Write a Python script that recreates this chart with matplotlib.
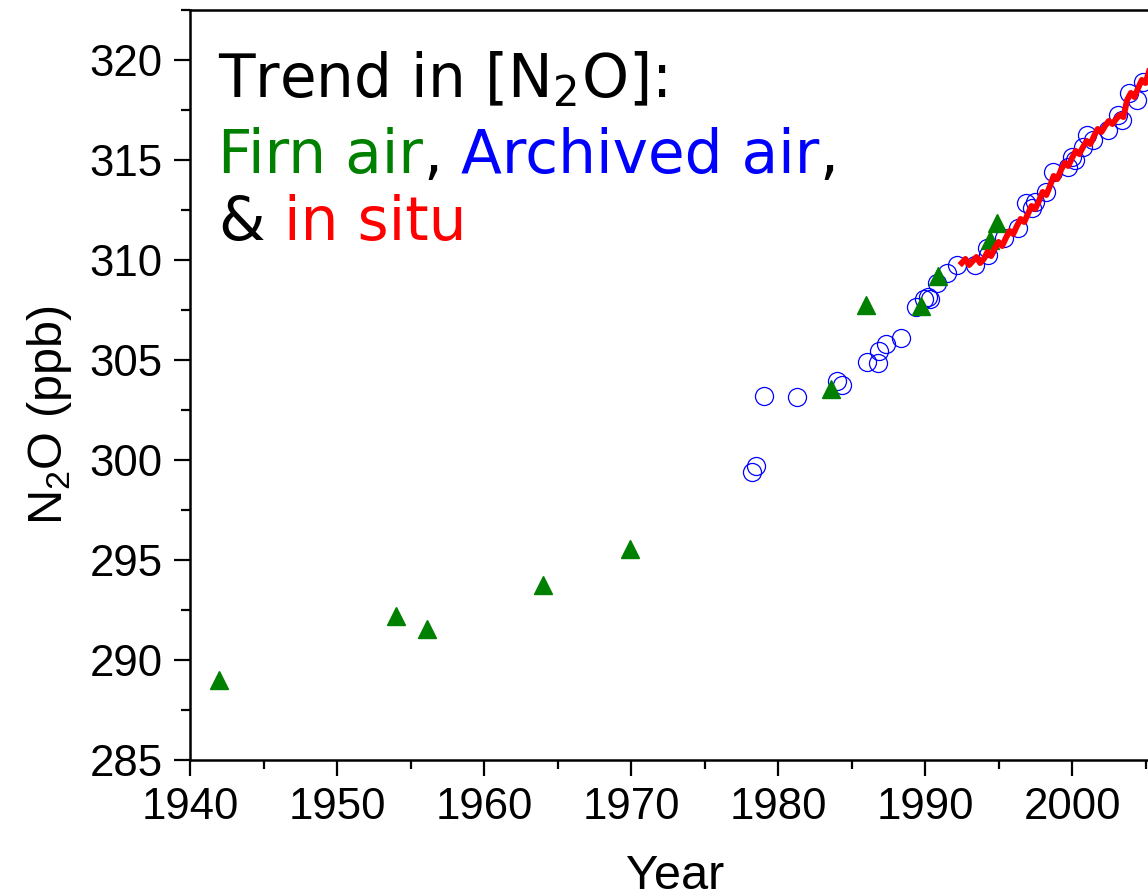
import matplotlib.pyplot as plt
from matplotlib.ticker import MultipleLocator

# firn air (green triangles)
firn_year = [1942.0, 1954.0, 1956.1, 1964.0, 1969.9, 1983.6, 1986.0, 1989.7, 1990.9, 1994.4, 1994.9]
firn_n2o = [289.0, 292.2, 291.55, 293.75, 295.55, 303.55, 307.75, 307.7, 309.2, 311.0, 311.85]

# archived air (open blue circles)
arch_year = [1978.2, 1978.5, 1979.05, 1981.3, 1984.0, 1984.35, 1986.05, 1986.8, 1986.9, 1987.35,
             1988.4, 1989.4, 1989.9, 1990.2, 1990.35, 1990.8, 1991.5, 1992.2, 1993.4, 1994.2,
             1994.3, 1995.4, 1996.3, 1996.9, 1997.3, 1997.5, 1998.2, 1998.7, 1999.7, 2000.0,
             2000.2, 2000.75, 2001.0, 2001.4, 2002.45, 2003.1, 2003.4, 2003.9, 2004.4, 2004.8]
arch_n2o = [299.4, 299.7, 303.2, 303.15, 303.95, 303.75, 304.9, 304.85, 305.45, 305.8,
            306.1, 307.65, 308.05, 308.15, 308.05, 308.85, 309.35, 309.75, 309.75, 310.6,
            310.25, 311.1, 311.6, 312.85, 312.6, 312.9, 313.4, 314.4, 314.65, 315.15,
            315.0, 315.65, 316.25, 316.0, 316.5, 317.25, 317.0, 318.35, 318.0, 318.9]

# in situ (red line)
situ_year = [1992.50, 1992.75, 1993.00, 1993.25, 1993.50, 1993.75, 1994.00, 1994.25, 1994.50, 1994.75,
             1995.00, 1995.25, 1995.50, 1995.75, 1996.00, 1996.25, 1996.50, 1996.75, 1997.00, 1997.25,
             1997.50, 1997.75, 1998.00, 1998.25, 1998.50, 1998.75, 1999.00, 1999.25, 1999.50, 1999.75,
             2000.00, 2000.25, 2000.50, 2000.75, 2001.00, 2001.25, 2001.50, 2001.75, 2002.00, 2002.25,
             2002.50, 2002.75, 2003.00, 2003.25, 2003.50, 2003.75, 2004.00, 2004.25, 2004.50, 2004.75,
             2005.00, 2005.25]
situ_n2o = [309.85, 310.05, 309.75, 309.95, 310.15, 309.85, 310.05, 310.40, 310.20, 310.60,
            310.90, 310.70, 311.10, 311.45, 311.30, 311.70, 312.05, 311.90, 312.30, 312.70,
            312.55, 312.95, 313.40, 313.25, 313.70, 314.20, 314.05, 314.50, 314.85, 314.70,
            315.10, 315.45, 315.30, 315.65, 315.95, 315.80, 316.20, 316.55, 316.40, 316.70,
            316.95, 316.80, 317.05, 317.25, 317.15, 318.00, 318.35, 318.15, 318.60, 319.00,
            318.85, 319.45]

plt.rcParams['font.family'] = 'Liberation Sans'
plt.rcParams['mathtext.fontset'] = 'custom'
plt.rcParams['mathtext.rm'] = 'Liberation Sans'

fig = plt.figure(figsize=(11.48, 8.96), dpi=100)
ax = fig.add_axes([190 / 1148, 136 / 896, 1029 / 1148, 750 / 896])

ax.plot(arch_year, arch_n2o, 'o', mfc='none', mec='blue', ms=13, mew=0.9, zorder=2)
ax.plot(firn_year, firn_n2o, '^', color='green', ms=13, zorder=3)
ax.plot(situ_year, situ_n2o, '-', color='red', lw=4.3, zorder=4)

ax.set_xlim(1940, 2010)
ax.set_ylim(285, 322.5)
ax.xaxis.set_major_locator(MultipleLocator(10))
ax.xaxis.set_minor_locator(MultipleLocator(5))
ax.yaxis.set_major_locator(MultipleLocator(5))
ax.yaxis.set_minor_locator(MultipleLocator(2.5))
ax.tick_params(which='major', direction='out', length=11.5, width=1.6, labelsize=31.5, pad=8)
ax.tick_params(which='minor', direction='out', length=6.5, width=1.6)
for s in ax.spines.values():
    s.set_linewidth(1.8)

ax.set_xlabel('Year', fontsize=35)
ax.xaxis.set_label_coords(0.471, -0.125)
ax.set_ylabel('N$_2$O (ppb)', fontsize=35)
ax.yaxis.set_label_coords(-0.113, 0.46)

# annotation text, coloured pieces chained one after another
tfont = dict(fontsize=43, family='DejaVu Sans', math_fontfamily='dejavusans')
ax.text(0.0272, 0.884, 'Trend in [N$_2$O]:', transform=ax.transAxes, va='baseline', color='black', **tfont)

t = ax.text(0.0272, 0.783, 'Firn air', transform=ax.transAxes, va='baseline', color='green', **tfont)
for piece, col in [(',', 'black'), (' Archived air', 'blue'), (',', 'black')]:
    t = ax.annotate(piece, xy=(1, 0), xycoords=t, va='bottom', ha='left', color=col, **tfont)

t = ax.text(0.0272, 0.693, '&', transform=ax.transAxes, va='baseline', color='black', **tfont)
ax.annotate(' in situ', xy=(1, 0), xycoords=t, va='bottom', ha='left', color='red', **tfont)

fig.savefig('out.png', dpi=100)
